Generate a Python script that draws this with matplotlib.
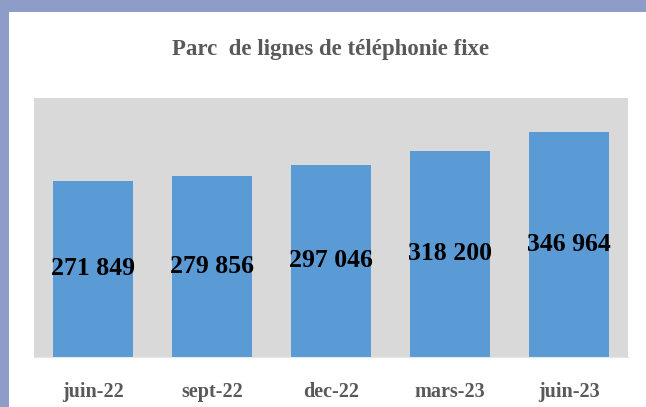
import matplotlib.pyplot as plt
from matplotlib.patches import Rectangle

categories = ['juin-22', 'sept-22', 'dec-22', 'mars-23', 'juin-23']
values = [271849, 279856, 297046, 318200, 346964]
labels = ['271 849', '279 856', '297 046', '318 200', '346 964']

plt.rcParams['font.family'] = 'Liberation Serif'

fig = plt.figure(figsize=(6.46, 4.07), dpi=100)
fig.patch.set_facecolor('white')

# blue frame on top and left
fig.patches.append(Rectangle((0, 1 - 12 / 407), 1, 12 / 407, transform=fig.transFigure,
                             facecolor='#8E9DC8', edgecolor='none'))
fig.patches.append(Rectangle((0, 0), 9 / 646, 1, transform=fig.transFigure,
                             facecolor='#8E9DC8', edgecolor='none'))

ax = fig.add_axes([34 / 646, 50 / 407, 594 / 646, 259 / 407])
ax.set_facecolor('#D9D9D9')

x = range(len(categories))
bars = ax.bar(x, values, width=0.675, color='#5B9BD5')

for b, lab in zip(bars, labels):
    ax.text(b.get_x() + b.get_width() / 2, b.get_height() / 2, lab,
            ha='center', va='center', fontsize=18.5, fontweight='bold', color='black')

ax.set_xlim(-0.5, 4.5)
ax.set_ylim(0, 400000)
ax.set_xticks(list(x))
ax.set_xticklabels(categories, fontsize=14.5, fontweight='bold', color='#595959')
ax.tick_params(axis='x', length=0, pad=18)
ax.set_yticks([])
for s in ['top', 'left', 'right']:
    ax.spines[s].set_visible(False)
ax.spines['bottom'].set_color('#E6E6E6')

fig.text(331 / 646, 1 - 49 / 407, 'Parc  de lignes de téléphonie fixe',
         ha='center', va='center', fontsize=16.5, fontweight='bold', color='#595959')

fig.savefig('out.png', dpi=100)
